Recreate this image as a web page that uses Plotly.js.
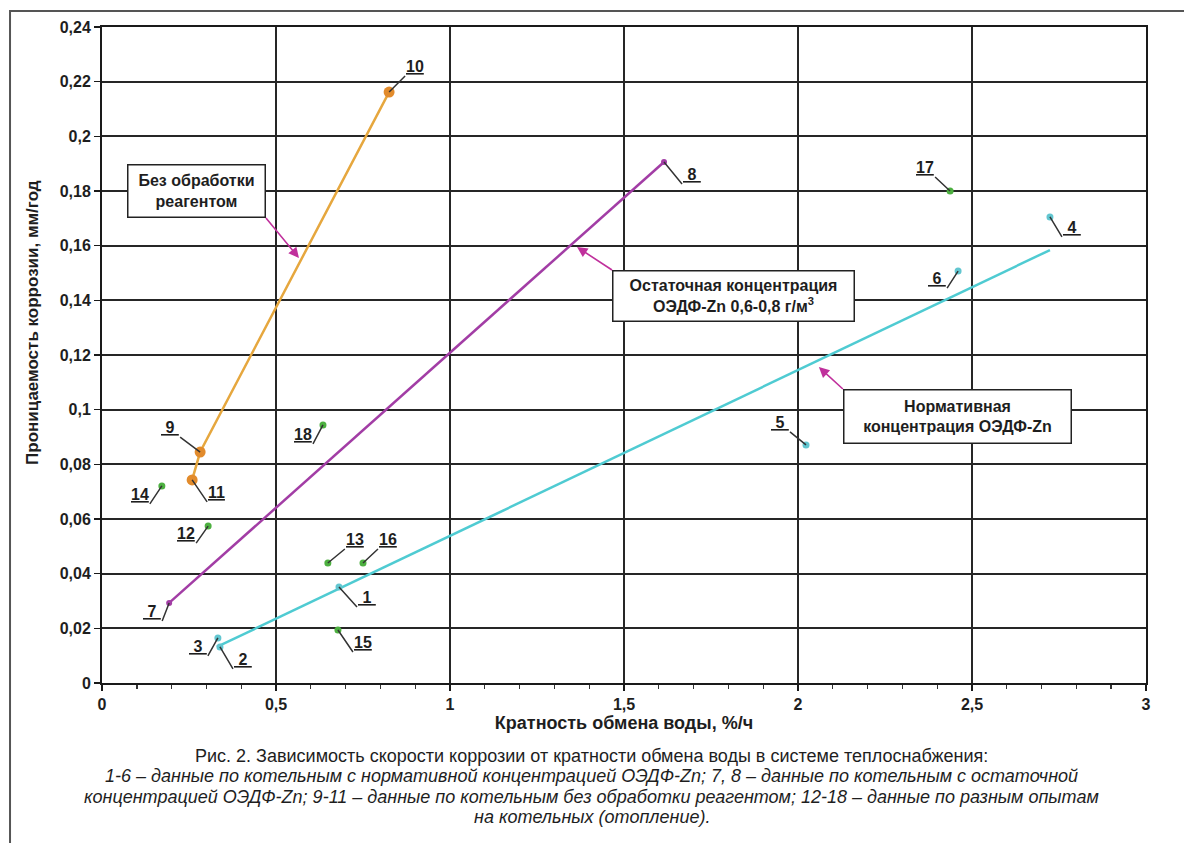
<!DOCTYPE html>
<html>
<head>
<meta charset="utf-8">
<script src="https://cdn.plot.ly/plotly-3.0.1.min.js"></script>
<style>
  html, body { margin: 0; padding: 0; background: #fff; }
  #chart { width: 1184px; height: 843px; }
</style>
</head>
<body>
<div id="chart"></div>
<script>
// ---- data ----
// 1-6: normative ОЭДФ-Zn concentration
const normLabels = ['1', '2', '3', '4', '5', '6'];
const normX = [0.681, 0.339, 0.333, 2.724, 2.023, 2.460];
const normY = [0.0351, 0.0132, 0.0165, 0.1705, 0.0871, 0.1507];
// trend line for 1-6
const normFitX = [0.330, 2.724];
const normFitY = [0.0132, 0.1584];
// 7, 8: residual concentration
const residLabels = ['7', '8'];
const residX = [0.193, 1.615];
const residY = [0.0293, 0.1906];
// 9-11: no reagent treatment (line order 11, 9, 10)
const noTreatLabels = ['11', '9', '10'];
const noTreatX = [0.259, 0.282, 0.825];
const noTreatY = [0.0743, 0.0845, 0.2162];
// 12-18: different experiments
const expLabels = ['12', '13', '14', '15', '16', '17', '18'];
const expX = [0.305, 0.649, 0.172, 0.678, 0.750, 2.437, 0.635];
const expY = [0.0574, 0.0439, 0.0721, 0.0194, 0.0439, 0.180, 0.0944];

// callout target points on the lines
const calloutX = [0.566, 1.365, 2.060];
const calloutY = [0.1555, 0.1595, 0.1156];

const xTitle = 'Кратность обмена воды, %/ч';
const yTitle = 'Проницаемость коррозии, мм/год';
const calloutTexts = [
  'Без обработки<br>реагентом',
  'Остаточная концентрация<br>ОЭДФ-Zn 0,6-0,8 г/м<sup>3</sup>',
  'Нормативная<br>концентрация ОЭДФ-Zn'
];
const captionLines = [
  'Рис. 2. Зависимость скорости коррозии от кратности обмена воды в системе теплоснабжения:',
  '<i>1-6 – данные по котельным с нормативной концентрацией ОЭДФ-Zn; 7, 8 – данные по котельным с остаточной</i>',
  '<i>концентрацией ОЭДФ-Zn; 9-11 – данные по котельным без обработки реагентом; 12-18 – данные по разным опытам</i>',
  '<i>на котельных (отопление).</i>'
];

// ---- styling / placement (pixels) ----
const FONT = 'Liberation Sans, Arial, sans-serif';
const TXT = '#1e1e1e';
// label leader offsets: [ax, ay, xanchor]
const labelPos = {
  '1': [18, 20, 'left'], '2': [13, 22, 'left'], '3': [-10, 18, 'right'],
  '4': [12, 20, 'left'], '5': [-16, -13, 'right'], '6': [-11, 17, 'right'],
  '7': [-7, 18, 'right'], '8': [18, 22, 'left'], '9': [-20, -15, 'right'],
  '10': [16, -16, 'left'], '11': [15, 22, 'left'], '12': [-12, 17, 'right'],
  '13': [17, -14, 'left'], '14': [-12, 18, 'right'], '15': [15, 22, 'left'],
  '16': [15, -14, 'left'], '17': [-15, -14, 'right'], '18': [-10, 19, 'right']
};
// callout boxes: arrow tail offset, anchors, box size
const calloutStyle = [
  { ax: -33, ay: -40, xa: 'right', ya: 'bottom', w: 134, h: 49 },
  { ax: 35, ay: 23, xa: 'left', ya: 'top', w: 238, h: 47 },
  { ax: 24, ay: 22, xa: 'left', ya: 'top', w: 224, h: 50 }
];

const traces = [
  { type: 'scatter', mode: 'lines', x: normFitX, y: normFitY,
    line: { color: '#4FCBD2', width: 2.5 }, hoverinfo: 'skip' },
  { type: 'scatter', mode: 'markers', x: normX, y: normY, text: normLabels,
    marker: { color: '#62C6D0', size: 7 } },
  { type: 'scatter', mode: 'lines+markers', x: residX, y: residY, text: residLabels,
    line: { color: '#A23DA5', width: 2.5 }, marker: { color: '#A23DA5', size: 6 } },
  { type: 'scatter', mode: 'lines+markers', x: noTreatX, y: noTreatY, text: noTreatLabels,
    line: { color: '#E6A73E', width: 2.5 }, marker: { color: '#E28B2C', size: 11 } },
  { type: 'scatter', mode: 'markers', x: expX, y: expY, text: expLabels,
    marker: { color: '#4DB040', size: 7 } }
];

const annotations = [];
function addLabels(labels, xs, ys) {
  labels.forEach((lab, i) => {
    const p = labelPos[lab];
    const t = lab.length === 1 ? '\u00a0' + lab + '\u00a0' : lab;
    annotations.push({
      x: xs[i], y: ys[i], xref: 'x', yref: 'y',
      text: '<u>' + t + '</u>', showarrow: true, arrowhead: 0, arrowwidth: 1.5,
      arrowcolor: '#333', standoff: 0, ax: p[0], ay: p[1],
      xanchor: p[2], yanchor: 'bottom', borderpad: 0,
      font: { family: FONT, size: 16, color: TXT, weight: 'bold' }
    });
  });
}
addLabels(normLabels, normX, normY);
addLabels(residLabels, residX, residY);
addLabels(noTreatLabels, noTreatX, noTreatY);
addLabels(expLabels, expX, expY);

// callout boxes with magenta arrows pointing at the lines
calloutTexts.forEach((txt, i) => {
  const s = calloutStyle[i];
  annotations.push({
    x: calloutX[i], y: calloutY[i], xref: 'x', yref: 'y', text: txt,
    showarrow: true, ax: s.ax, ay: s.ay, xanchor: s.xa, yanchor: s.ya,
    arrowhead: 2, arrowsize: 1.3, arrowwidth: 1.6, arrowcolor: '#C0309C', standoff: 0,
    width: s.w, height: s.h, bgcolor: '#fff', bordercolor: '#222', borderwidth: 1.5,
    borderpad: 1, align: 'center', valign: 'middle',
    font: { family: FONT, size: 16, color: TXT, weight: 'bold' }
  });
});

// y title
annotations.push({
  x: -0.066, y: 0.549, xref: 'paper', yref: 'paper', text: yTitle, textangle: -90,
  xanchor: 'center', yanchor: 'middle',
  showarrow: false, font: { family: FONT, size: 17, color: TXT, weight: 'bold' }
});
// caption
const capY = [-0.1113, -0.1425, -0.1738, -0.2050];
captionLines.forEach((t, i) => annotations.push({
  x: 0.469, y: capY[i], xref: 'paper', yref: 'paper', text: t, showarrow: false,
  xanchor: 'center', yanchor: 'middle',
  font: { family: FONT, size: 18, color: TXT }
}));

const axisCommon = {
  showgrid: true, gridcolor: '#262626', gridwidth: 1.8,
  showline: true, linecolor: '#1a1a1a', linewidth: 2, mirror: true,
  ticks: 'outside', ticklen: 6, tickwidth: 1.6, tickcolor: '#1a1a1a',
  zeroline: false, tickfont: { family: FONT, size: 16, color: TXT, weight: 'bold' }
};

const layout = {
  width: 1184, height: 843,
  margin: { l: 102, r: 38, t: 27, b: 160 },
  paper_bgcolor: '#fff', plot_bgcolor: '#fff',
  showlegend: false, hovermode: false,
  separators: ', ',
  font: { family: FONT, color: TXT },
  xaxis: Object.assign({}, axisCommon, {
    range: [0, 3], tick0: 0, dtick: 0.5,
    minor: { dtick: 0.1, ticks: 'outside', ticklen: 4, tickwidth: 1.4, tickcolor: '#333', showgrid: false },
    title: { text: xTitle, standoff: 2, font: { family: FONT, size: 18, color: TXT, weight: 'bold' } }
  }),
  yaxis: Object.assign({}, axisCommon, {
    range: [0, 0.24], tick0: 0, dtick: 0.02
  }),
  annotations: annotations,
  shapes: [
    { type: 'rect', xref: 'paper', yref: 'paper', x0: -0.0881, x1: 1.06, y0: -0.4, y1: 1.0244,
      line: { color: '#555', width: 2 }, fillcolor: 'rgba(0,0,0,0)', layer: 'below' }
  ]
};

Plotly.newPlot('chart', traces, layout, { staticPlot: true, displayModeBar: false });
</script>
</body>
</html>
